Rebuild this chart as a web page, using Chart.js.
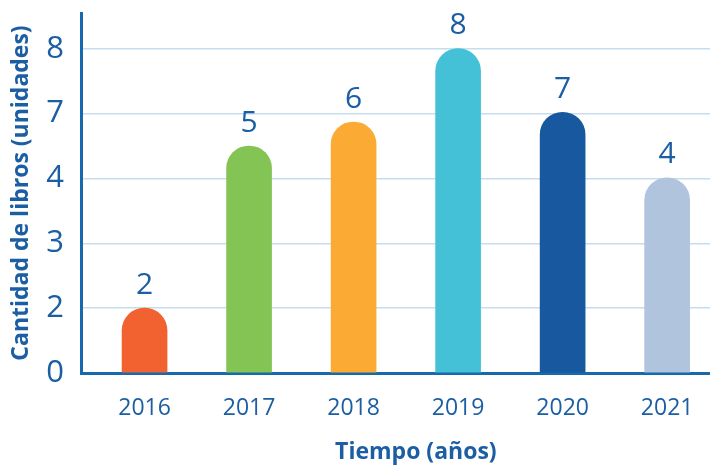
<!DOCTYPE html>
<html lang="es">
<head>
<meta charset="UTF-8">
<title>Cantidad de libros</title>
<script src="https://cdn.jsdelivr.net/npm/chart.js"></script>
<style>
    html, body { margin: 0; padding: 0; background: #fff; }
    #grafico-wrap { width: 710px; height: 467px; }
</style>
</head>
<body>
<div id="grafico-wrap"><canvas id="grafico-libros"></canvas></div>

<script>
    // datos
    const anios = ['2016', '2017', '2018', '2019', '2020', '2021'];
    const librosLeidos = [2, 5, 6, 8, 7, 4];              // texto encima de cada barra
    const alturaBarras = [1, 3.5, 3.87, 5, 4.02, 3.01];   // altura de la barra en pasos del eje Y
    const etiquetasY = ['0', '2', '3', '4', '7', '8'];    // marcas del eje Y (una por paso)
    const coloresBarras = ['#f26130', '#84c455', '#fbab34', '#45c1d7', '#17589e', '#b1c4de'];

    const azulTexto = '#1b5ea3';
    const azulEje = '#1769ad';
    const fuente = "'Open Sans', 'Noto Sans', sans-serif";

    // etiqueta con el valor encima de cada barra
    const valoresEncima = {
        id: 'valoresEncima',
        afterDatasetsDraw(chart) {
            const ctx = chart.ctx;
            const meta = chart.getDatasetMeta(0);
            ctx.save();
            ctx.font = '30px ' + fuente;
            ctx.fillStyle = azulTexto;
            ctx.textAlign = 'center';
            ctx.textBaseline = 'bottom';
            meta.data.forEach(function (barra, i) {
                ctx.fillText(String(librosLeidos[i]), barra.x, barra.y - 8);
            });
            ctx.restore();
        }
    };

    // título del eje X (va algo a la derecha del centro en el original)
    const tituloX = {
        id: 'tituloX',
        afterDraw(chart) {
            const ctx = chart.ctx;
            const xs = chart.scales.x;
            ctx.save();
            ctx.font = 'bold 23px ' + fuente;
            ctx.fillStyle = azulTexto;
            ctx.textAlign = 'center';
            ctx.textBaseline = 'middle';
            const centro = (xs.getPixelForValue(0) + xs.getPixelForValue(anios.length - 1)) / 2 + 10;
            ctx.fillText('Tiempo (años)', centro, chart.height - 15);
            ctx.restore();
        }
    };

    const ctx = document.getElementById('grafico-libros');
    new Chart(ctx, {
        type: 'bar',
        data: {
            datasets: [{
                data: alturaBarras.map((v, i) => ({ x: i, y: v })),
                backgroundColor: coloresBarras,
                barThickness: 45,
                borderRadius: { topLeft: 23, topRight: 23, bottomLeft: 0, bottomRight: 0 },
                borderSkipped: 'bottom'
            }]
        },
        options: {
            responsive: true,
            maintainAspectRatio: false,
            animation: false,
            layout: { padding: { top: 13, right: 0, left: 0, bottom: 0 } },
            plugins: {
                legend: { display: false },
                tooltip: { enabled: false }
            },
            scales: {
                x: {
                    type: 'linear',
                    offset: false,
                    min: -0.608,
                    max: 5.41,
                    afterBuildTicks: function (scale) {
                        scale.ticks = anios.map((a, i) => ({ value: i }));
                    },
                    afterFit: function (scale) {
                        scale.height = 94;
                        scale.paddingLeft = 0;
                        scale.paddingRight = 0;
                    },
                    grid: { display: false, drawTicks: false },
                    border: { display: true, color: azulEje, width: 3 },
                    ticks: {
                        padding: 22,
                        color: azulTexto,
                        font: { size: 23, family: fuente },
                        callback: function (v) { return anios[v]; }
                    }
                },
                y: {
                    min: 0,
                    max: 5.55,
                    afterBuildTicks: function (scale) {
                        scale.ticks = etiquetasY.map((t, i) => ({ value: i }));
                    },
                    afterFit: function (scale) {
                        scale.width = 81;
                        scale.paddingTop = 0;
                        scale.paddingBottom = 0;
                    },
                    grid: { color: '#c6dcef', lineWidth: 1.5, drawTicks: false },
                    border: { display: true, color: azulEje, width: 3 },
                    ticks: {
                        padding: 17,
                        color: azulTexto,
                        font: { size: 31, family: fuente },
                        callback: function (v) { return etiquetasY[v]; }
                    },
                    title: {
                        display: true,
                        text: 'Cantidad de libros (unidades)',
                        color: azulTexto,
                        font: { size: 23, weight: 'bold', family: fuente },
                        padding: { top: 8, bottom: 0 }
                    }
                }
            }
        },
        plugins: [valoresEncima, tituloX]
    });
</script>
</body>
</html>
